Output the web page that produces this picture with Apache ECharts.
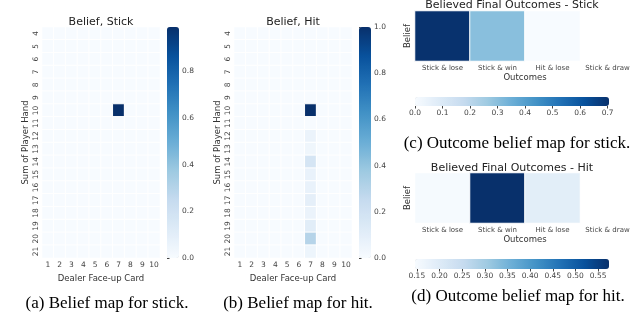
<!DOCTYPE html>
<html>
<head>
<meta charset="utf-8">
<script src="https://cdn.jsdelivr.net/npm/echarts@6/dist/echarts.min.js"></script>
<style>
html, body { margin: 0; padding: 0; background: #fff; }
#main { width: 640px; height: 328px; }
</style>
</head>
<body>
<div id="main"></div>
<script>
// axes of the two belief maps
const playerSums = ['4','5','6','7','8','9','10','11','12','13','14','15','16','17','18','19','20','21'];
const dealerCards = ['1','2','3','4','5','6','7','8','9','10'];
const outcomes = ['Stick & lose', 'Stick & win', 'Hit & lose', 'Stick & draw'];

// belief map for stick, one row per player sum (4..21), columns dealer card 1..10
const stickBelief = [
  [0,0,0,0,0,0,0,0,0,0],
  [0,0,0,0,0,0,0,0,0,0],
  [0,0,0,0,0,0,0,0,0,0],
  [0,0,0,0,0,0,0,0,0,0],
  [0,0,0,0,0,0,0,0,0,0],
  [0,0,0,0,0,0,0,0,0,0],
  [0,0,0,0,0,0,0.99,0,0,0],
  [0,0,0,0,0,0,0,0,0,0],
  [0,0,0,0,0,0,0,0,0,0],
  [0,0,0,0,0,0,0,0,0,0],
  [0,0,0,0,0,0,0,0,0,0],
  [0,0,0,0,0,0,0,0,0,0],
  [0,0,0,0,0,0,0,0,0,0],
  [0,0,0,0,0,0,0,0,0,0],
  [0,0,0,0,0,0,0,0,0,0],
  [0,0,0,0,0,0,0,0,0,0],
  [0,0,0,0,0,0,0,0,0,0],
  [0,0,0,0,0,0,0,0,0,0]
];

// belief map for hit
const hitBelief = [
  [0,0,0,0,0,0,0,0,0,0],
  [0,0,0,0,0,0,0,0,0,0],
  [0,0,0,0,0,0,0,0,0,0],
  [0,0,0,0,0,0,0,0,0,0],
  [0,0,0,0,0,0,0,0,0,0],
  [0,0,0,0,0,0,0,0,0,0],
  [0,0,0,0,0,0,1.0,0,0,0],
  [0,0,0,0,0,0,0,0,0,0],
  [0,0,0,0,0,0,0.06,0,0,0],
  [0,0,0,0,0,0,0.04,0,0,0],
  [0,0,0,0,0,0,0.17,0,0,0],
  [0,0,0,0,0,0,0.07,0,0,0],
  [0,0,0,0,0,0,0.07,0,0,0],
  [0,0,0,0,0,0,0.09,0,0,0],
  [0,0,0,0,0,0,0.06,0,0,0],
  [0,0,0,0,0,0,0.11,0,0,0],
  [0,0,0,0,0,0,0.30,0,0,0],
  [0,0,0,0,0,0,0.05,0,0,0]
];

// believed final outcomes (no value for "Stick & draw")
const stickOutcomes = [0.70, 0.30, 0.0];
const hitOutcomes = [0.15, 0.575, 0.19];

// colour bar ranges and tick labels
const stickRange = [0, 0.99];
const hitRange = [0, 1.0];
const stickOutRange = [0, 0.705];
const hitOutRange = [0.146, 0.574];
const beliefTicks = [0, 0.2, 0.4, 0.6, 0.8];
const hitBeliefTicks = [0, 0.2, 0.4, 0.6, 0.8, 1.0];
const stickOutTicks = [0, 0.1, 0.2, 0.3, 0.4, 0.5, 0.6, 0.7];
const hitOutTicks = [0.15, 0.20, 0.25, 0.30, 0.35, 0.40, 0.45, 0.50, 0.55];

const blues = ['#f7fbff','#deebf7','#c6dbef','#9ecae1','#6baed6','#4292c6','#2171b5','#08519c','#08306b'];
const sans = 'DejaVu Sans';
const serif = 'Liberation Serif';

function matrixCells(m) {
  var cells = [];
  for (var r = 0; r < m.length; r++) {
    for (var c = 0; c < m[r].length; c++) {
      cells.push([c, r, m[r][c]]);
    }
  }
  return cells;
}

function rowCells(v) {
  return v.map(function (val, i) { return [i, 0, val]; });
}

function mapXAxis(grid, data) {
  return {
    type: 'category', gridIndex: grid, data: data,
    axisLine: { show: false }, axisTick: { show: false }, splitLine: { show: false },
    axisLabel: { fontFamily: sans, fontSize: 7.5, color: '#444', margin: 3, interval: 0 },
    name: 'Dealer Face-up Card', nameLocation: 'middle', nameGap: 11,
    nameTextStyle: { fontFamily: sans, fontSize: 8.5, color: '#333' }
  };
}

function mapYAxis(grid) {
  return {
    type: 'category', gridIndex: grid, data: playerSums, inverse: true,
    axisLine: { show: false }, axisTick: { show: false }, splitLine: { show: false },
    axisLabel: { fontFamily: sans, fontSize: 7.5, color: '#444', margin: 2, rotate: 90, interval: 0 },
    name: 'Sum of Player Hand', nameLocation: 'middle', nameGap: 12,
    nameTextStyle: { fontFamily: sans, fontSize: 8.5, color: '#333' }
  };
}

function outXAxis(grid) {
  return {
    type: 'category', gridIndex: grid, data: outcomes,
    axisLine: { show: false }, axisTick: { show: false }, splitLine: { show: false },
    axisLabel: { fontFamily: sans, fontSize: 7, color: '#444', margin: 4, interval: 0 },
    name: 'Outcomes', nameLocation: 'middle', nameGap: 12,
    nameTextStyle: { fontFamily: sans, fontSize: 8.5, color: '#333' }
  };
}

function outYAxis(grid) {
  return {
    type: 'category', gridIndex: grid, data: [''],
    axisLine: { show: false }, axisTick: { show: false }, splitLine: { show: false },
    axisLabel: { show: false },
    name: 'Belief', nameLocation: 'middle', nameGap: 3,
    nameTextStyle: { fontFamily: sans, fontSize: 8.5, color: '#333' }
  };
}

function hiddenAxis(grid) {
  return { type: 'value', gridIndex: grid, min: 0, max: 1, show: false };
}

function barAxis(grid, range, ticks, pos, fmt) {
  return {
    type: 'value', gridIndex: grid, min: range[0], max: range[1], position: pos,
    axisLine: { show: false }, splitLine: { show: false },
    axisTick: { show: true, length: 2.5, lineStyle: { color: '#444' }, customValues: ticks },
    axisLabel: {
      fontFamily: sans, fontSize: 7.5, color: '#444', margin: 3, customValues: ticks,
      formatter: function (v) { return v.toFixed(fmt); }
    }
  };
}

function heat(xi, data) {
  return {
    type: 'heatmap', xAxisIndex: xi, yAxisIndex: xi, data: data,
    itemStyle: { borderColor: '#fff', borderWidth: 1 },
    emphasis: { disabled: true }
  };
}

function bar(series, range, orient, left, top, w, len) {
  return {
    type: 'continuous', seriesIndex: series, min: range[0], max: range[1],
    orient: orient, left: left, top: top, itemWidth: w, itemHeight: len,
    calculable: false, hoverLink: false, padding: 0,
    inRange: { color: blues }
  };
}

function label(text, x, y, size, family) {
  return {
    text: text, left: x, top: y, textAlign: 'center', padding: 0,
    textStyle: { fontFamily: family, fontSize: size, fontWeight: 'normal', color: family === serif ? '#000' : '#222' }
  };
}

var myChart = echarts.init(document.getElementById('main'));
myChart.setOption({
  animation: false,
  backgroundColor: '#fff',
  title: [
    label('Belief, Stick', 101, 17, 11, sans),
    label('Belief, Hit', 293, 17, 11, sans),
    label('Believed Final Outcomes - Stick', 512, 0, 11, sans),
    label('Believed Final Outcomes - Hit', 512, 163, 11, sans),
    label('(a) Belief map for stick.', 107, 295, 17, serif),
    label('(b) Belief map for hit.', 298, 295, 17, serif),
    label('(c) Outcome belief map for stick.', 517, 135, 17, serif),
    label('(d) Outcome belief map for hit.', 518, 288, 17, serif)
  ],
  grid: [
    { left: 42, top: 27, width: 118, height: 231 },
    { left: 234, top: 27, width: 118, height: 231 },
    { left: 415, top: 11, width: 220, height: 50 },
    { left: 415, top: 173, width: 220, height: 50 },
    { left: 167, top: 27, width: 12, height: 231 },
    { left: 359, top: 27, width: 12, height: 231 },
    { left: 415, top: 97, width: 194, height: 9 },
    { left: 415, top: 259, width: 194, height: 10 }
  ],
  xAxis: [
    mapXAxis(0, dealerCards),
    mapXAxis(1, dealerCards),
    outXAxis(2),
    outXAxis(3),
    hiddenAxis(4),
    hiddenAxis(5),
    barAxis(6, stickOutRange, stickOutTicks, 'bottom', 1),
    barAxis(7, hitOutRange, hitOutTicks, 'bottom', 2)
  ],
  yAxis: [
    mapYAxis(0),
    mapYAxis(1),
    outYAxis(2),
    outYAxis(3),
    barAxis(4, stickRange, beliefTicks, 'right', 1),
    barAxis(5, hitRange, hitBeliefTicks, 'right', 1),
    hiddenAxis(6),
    hiddenAxis(7)
  ],
  visualMap: [
    bar(0, stickRange, 'vertical', 167, 27, 12, 231),
    bar(1, hitRange, 'vertical', 359, 27, 12, 231),
    bar(2, stickOutRange, 'horizontal', 415, 97, 9, 194),
    bar(3, hitOutRange, 'horizontal', 415, 259, 10, 194)
  ],
  series: [
    heat(0, matrixCells(stickBelief)),
    heat(1, matrixCells(hitBelief)),
    heat(2, rowCells(stickOutcomes)),
    heat(3, rowCells(hitOutcomes))
  ]
});
</script>
</body>
</html>
